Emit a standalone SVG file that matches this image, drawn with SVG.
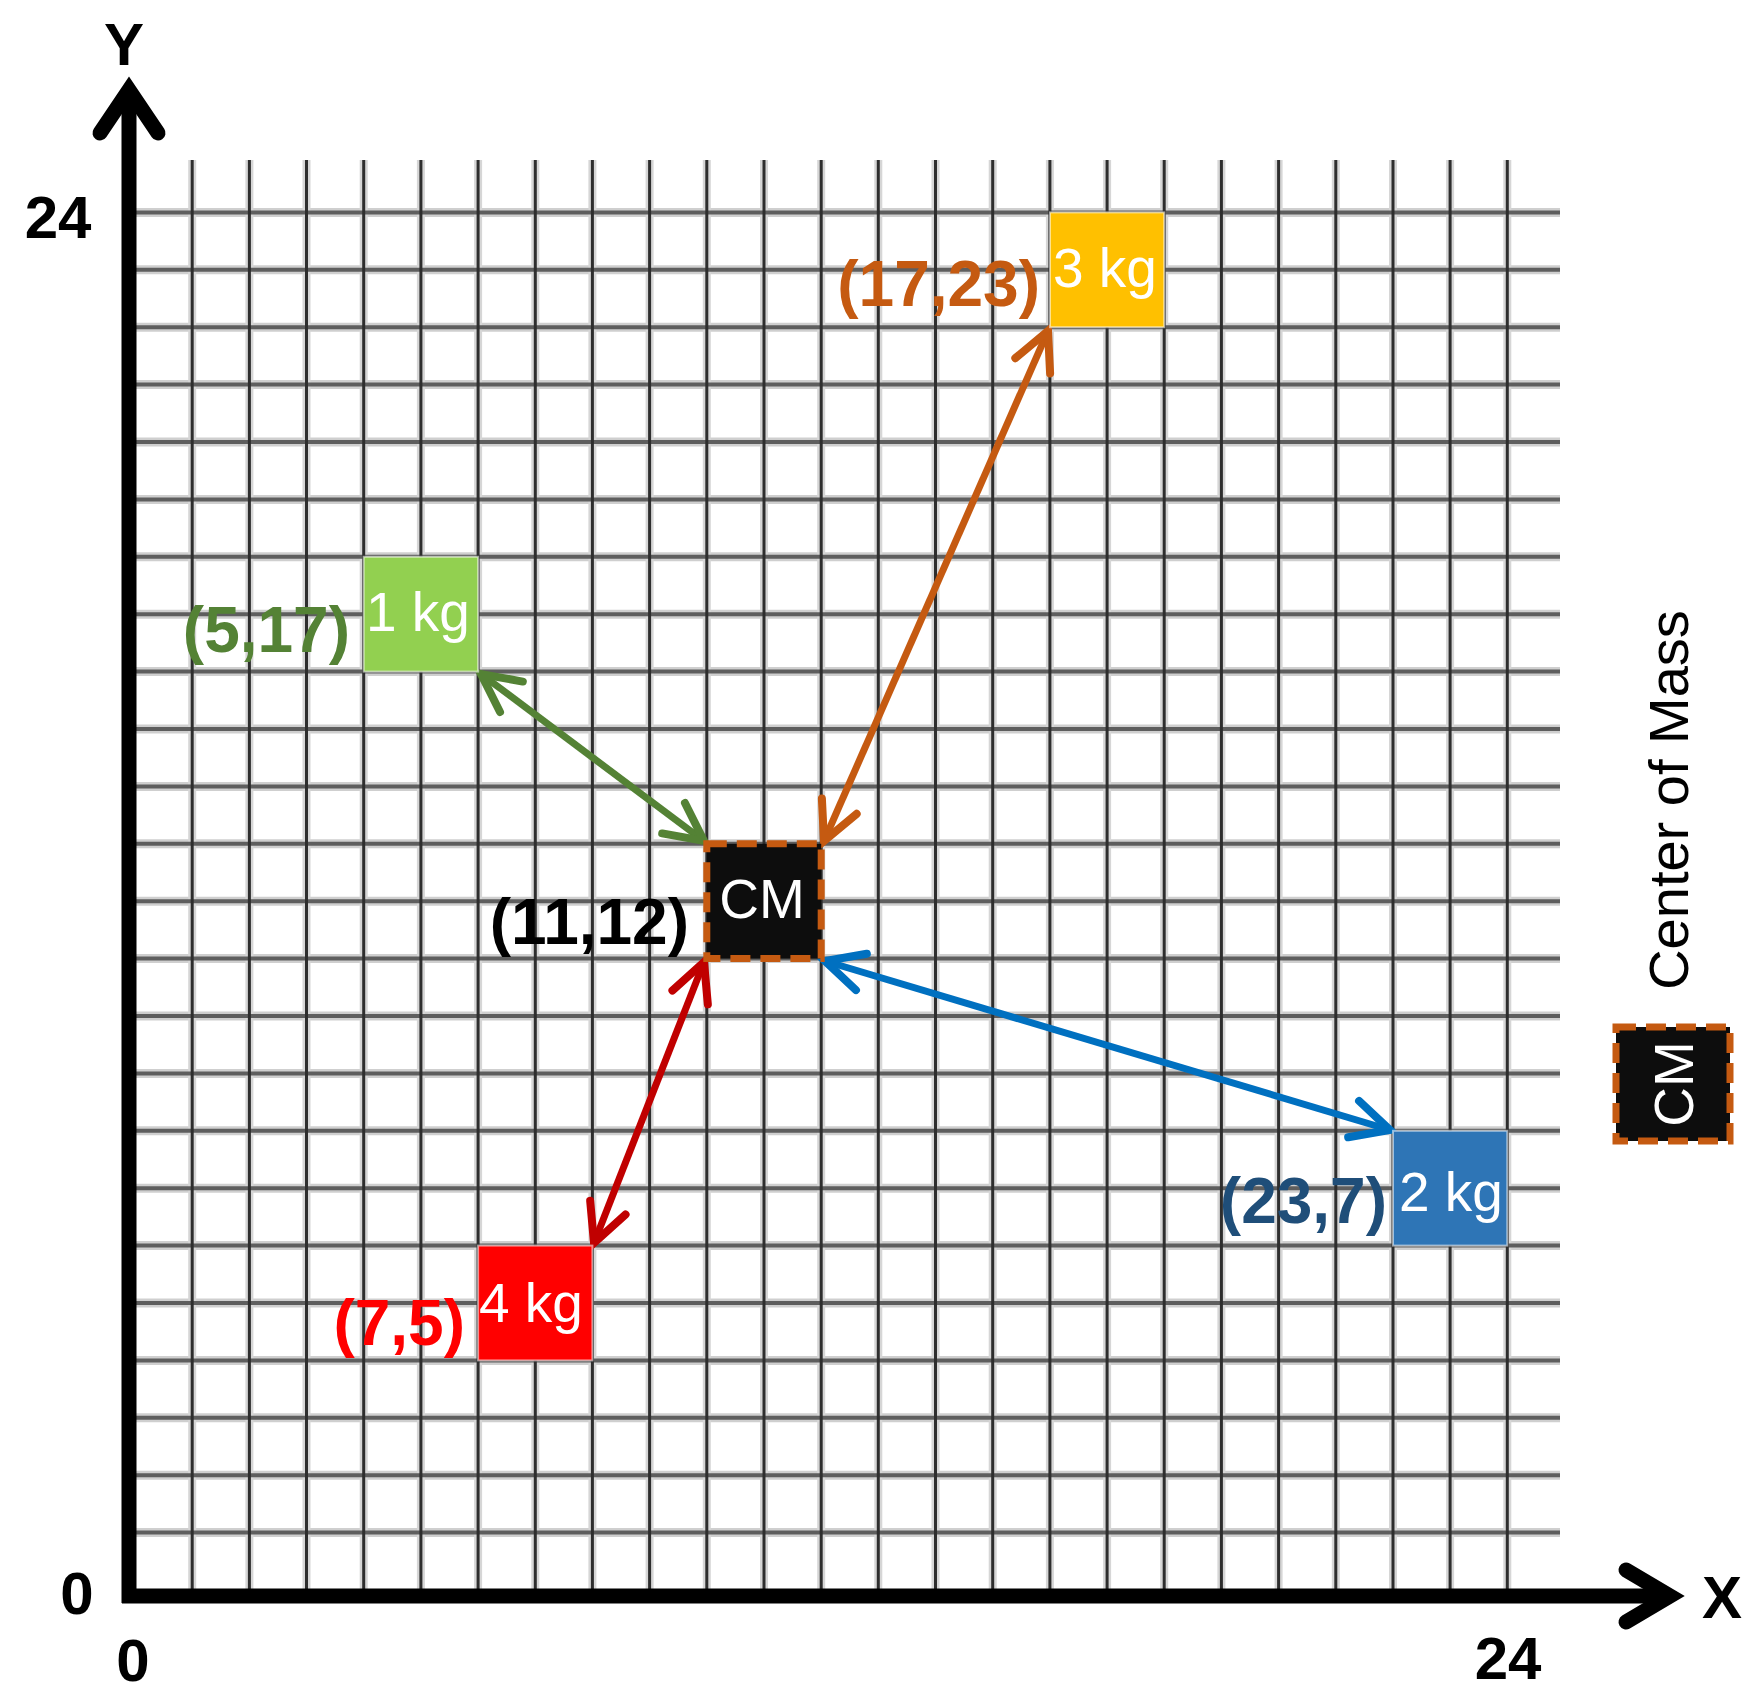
<svg xmlns="http://www.w3.org/2000/svg" width="1760" height="1708" viewBox="0 0 1760 1708">
<style>
.lbl{font-family:"Liberation Sans",Arial,sans-serif;font-weight:bold;font-size:64px}
.ax{font-family:"Liberation Sans",Arial,sans-serif;font-weight:bold;font-size:60px;fill:#000}
.bt{font-family:"Liberation Sans",Arial,sans-serif;font-size:55px;fill:#fff}
.hh{stroke:#cfcfcf;stroke-width:9}
.hc{stroke:#5e5e5e;stroke-width:4}
.vh{stroke:#d6d6d6;stroke-width:8}
.vc{stroke:#2e2e2e;stroke-width:3}
.box{stroke:#ffffff;stroke-opacity:0.55;stroke-width:2}
.cm{fill:#0d0d0d;stroke:#C55A11;stroke-width:7;stroke-dasharray:20 10}
.conn{fill:none;stroke-width:7}
</style>
<defs>
<marker id="ag" markerUnits="userSpaceOnUse" orient="auto-start-reverse" refX="0" refY="0" markerWidth="60" markerHeight="60" overflow="visible"><path d="M-38,-19 L0,0 L-38,19" fill="none" stroke="#548235" stroke-width="8" stroke-linecap="round" stroke-linejoin="miter"/></marker>
<marker id="ao" markerUnits="userSpaceOnUse" orient="auto-start-reverse" refX="0" refY="0" markerWidth="60" markerHeight="60" overflow="visible"><path d="M-38,-19 L0,0 L-38,19" fill="none" stroke="#C55A11" stroke-width="8" stroke-linecap="round" stroke-linejoin="miter"/></marker>
<marker id="ab" markerUnits="userSpaceOnUse" orient="auto-start-reverse" refX="0" refY="0" markerWidth="60" markerHeight="60" overflow="visible"><path d="M-38,-19 L0,0 L-38,19" fill="none" stroke="#0070C0" stroke-width="8" stroke-linecap="round" stroke-linejoin="miter"/></marker>
<marker id="ar" markerUnits="userSpaceOnUse" orient="auto-start-reverse" refX="0" refY="0" markerWidth="60" markerHeight="60" overflow="visible"><path d="M-38,-19 L0,0 L-38,19" fill="none" stroke="#C00000" stroke-width="8" stroke-linecap="round" stroke-linejoin="miter"/></marker>
</defs>
<rect width="1760" height="1708" fill="#fff"/>
<g id="grid">
<g class="hh">
<line x1="136" y1="1532.6" x2="1560" y2="1532.6"/><line x1="136" y1="1475.2" x2="1560" y2="1475.2"/><line x1="136" y1="1417.8" x2="1560" y2="1417.8"/><line x1="136" y1="1360.4" x2="1560" y2="1360.4"/><line x1="136" y1="1303" x2="1560" y2="1303"/><line x1="136" y1="1245.6" x2="1560" y2="1245.6"/><line x1="136" y1="1188.2" x2="1560" y2="1188.2"/><line x1="136" y1="1130.8" x2="1560" y2="1130.8"/><line x1="136" y1="1073.4" x2="1560" y2="1073.4"/><line x1="136" y1="1016" x2="1560" y2="1016"/><line x1="136" y1="958.6" x2="1560" y2="958.6"/><line x1="136" y1="901.2" x2="1560" y2="901.2"/><line x1="136" y1="843.8" x2="1560" y2="843.8"/><line x1="136" y1="786.4" x2="1560" y2="786.4"/><line x1="136" y1="729" x2="1560" y2="729"/><line x1="136" y1="671.6" x2="1560" y2="671.6"/><line x1="136" y1="614.2" x2="1560" y2="614.2"/><line x1="136" y1="556.8" x2="1560" y2="556.8"/><line x1="136" y1="499.4" x2="1560" y2="499.4"/><line x1="136" y1="442" x2="1560" y2="442"/><line x1="136" y1="384.6" x2="1560" y2="384.6"/><line x1="136" y1="327.2" x2="1560" y2="327.2"/><line x1="136" y1="269.8" x2="1560" y2="269.8"/><line x1="136" y1="212.4" x2="1560" y2="212.4"/>
</g>
<g class="vh">
<line x1="192.2" y1="160" x2="192.2" y2="1590"/><line x1="249.4" y1="160" x2="249.4" y2="1590"/><line x1="306.5" y1="160" x2="306.5" y2="1590"/><line x1="363.7" y1="160" x2="363.7" y2="1590"/><line x1="420.9" y1="160" x2="420.9" y2="1590"/><line x1="478.1" y1="160" x2="478.1" y2="1590"/><line x1="535.3" y1="160" x2="535.3" y2="1590"/><line x1="592.4" y1="160" x2="592.4" y2="1590"/><line x1="649.6" y1="160" x2="649.6" y2="1590"/><line x1="706.8" y1="160" x2="706.8" y2="1590"/><line x1="764" y1="160" x2="764" y2="1590"/><line x1="821.2" y1="160" x2="821.2" y2="1590"/><line x1="878.3" y1="160" x2="878.3" y2="1590"/><line x1="935.5" y1="160" x2="935.5" y2="1590"/><line x1="992.7" y1="160" x2="992.7" y2="1590"/><line x1="1049.9" y1="160" x2="1049.9" y2="1590"/><line x1="1107.1" y1="160" x2="1107.1" y2="1590"/><line x1="1164.2" y1="160" x2="1164.2" y2="1590"/><line x1="1221.4" y1="160" x2="1221.4" y2="1590"/><line x1="1278.6" y1="160" x2="1278.6" y2="1590"/><line x1="1335.8" y1="160" x2="1335.8" y2="1590"/><line x1="1393" y1="160" x2="1393" y2="1590"/><line x1="1450.1" y1="160" x2="1450.1" y2="1590"/><line x1="1507.3" y1="160" x2="1507.3" y2="1590"/>
</g>
<g class="hc">
<line x1="136" y1="1532.6" x2="1560" y2="1532.6"/><line x1="136" y1="1475.2" x2="1560" y2="1475.2"/><line x1="136" y1="1417.8" x2="1560" y2="1417.8"/><line x1="136" y1="1360.4" x2="1560" y2="1360.4"/><line x1="136" y1="1303" x2="1560" y2="1303"/><line x1="136" y1="1245.6" x2="1560" y2="1245.6"/><line x1="136" y1="1188.2" x2="1560" y2="1188.2"/><line x1="136" y1="1130.8" x2="1560" y2="1130.8"/><line x1="136" y1="1073.4" x2="1560" y2="1073.4"/><line x1="136" y1="1016" x2="1560" y2="1016"/><line x1="136" y1="958.6" x2="1560" y2="958.6"/><line x1="136" y1="901.2" x2="1560" y2="901.2"/><line x1="136" y1="843.8" x2="1560" y2="843.8"/><line x1="136" y1="786.4" x2="1560" y2="786.4"/><line x1="136" y1="729" x2="1560" y2="729"/><line x1="136" y1="671.6" x2="1560" y2="671.6"/><line x1="136" y1="614.2" x2="1560" y2="614.2"/><line x1="136" y1="556.8" x2="1560" y2="556.8"/><line x1="136" y1="499.4" x2="1560" y2="499.4"/><line x1="136" y1="442" x2="1560" y2="442"/><line x1="136" y1="384.6" x2="1560" y2="384.6"/><line x1="136" y1="327.2" x2="1560" y2="327.2"/><line x1="136" y1="269.8" x2="1560" y2="269.8"/><line x1="136" y1="212.4" x2="1560" y2="212.4"/>
</g>
<g class="vc">
<line x1="192.2" y1="160" x2="192.2" y2="1590"/><line x1="249.4" y1="160" x2="249.4" y2="1590"/><line x1="306.5" y1="160" x2="306.5" y2="1590"/><line x1="363.7" y1="160" x2="363.7" y2="1590"/><line x1="420.9" y1="160" x2="420.9" y2="1590"/><line x1="478.1" y1="160" x2="478.1" y2="1590"/><line x1="535.3" y1="160" x2="535.3" y2="1590"/><line x1="592.4" y1="160" x2="592.4" y2="1590"/><line x1="649.6" y1="160" x2="649.6" y2="1590"/><line x1="706.8" y1="160" x2="706.8" y2="1590"/><line x1="764" y1="160" x2="764" y2="1590"/><line x1="821.2" y1="160" x2="821.2" y2="1590"/><line x1="878.3" y1="160" x2="878.3" y2="1590"/><line x1="935.5" y1="160" x2="935.5" y2="1590"/><line x1="992.7" y1="160" x2="992.7" y2="1590"/><line x1="1049.9" y1="160" x2="1049.9" y2="1590"/><line x1="1107.1" y1="160" x2="1107.1" y2="1590"/><line x1="1164.2" y1="160" x2="1164.2" y2="1590"/><line x1="1221.4" y1="160" x2="1221.4" y2="1590"/><line x1="1278.6" y1="160" x2="1278.6" y2="1590"/><line x1="1335.8" y1="160" x2="1335.8" y2="1590"/><line x1="1393" y1="160" x2="1393" y2="1590"/><line x1="1450.1" y1="160" x2="1450.1" y2="1590"/><line x1="1507.3" y1="160" x2="1507.3" y2="1590"/>
</g>
</g>
<g id="axes" fill="none" stroke="#000" stroke-width="15">
<line x1="129" y1="1603" x2="129" y2="95"/>
<path d="M100,133 L129,90 L158,133" stroke-linecap="round" stroke-linejoin="miter"/>
<line x1="122" y1="1596" x2="1665" y2="1596"/>
<path d="M1626,1570 L1670,1596 L1626,1622" stroke-linecap="round" stroke-linejoin="miter"/>
</g>
<g id="axis-labels">
<text class="ax" x="124" y="65" text-anchor="middle">Y</text>
<text class="ax" x="1722" y="1618" text-anchor="middle">X</text>
<text class="ax" x="58" y="238" text-anchor="middle">24</text>
<text class="ax" x="77" y="1614" text-anchor="middle">0</text>
<text class="ax" x="133" y="1681" text-anchor="middle">0</text>
<text class="ax" x="1508" y="1679" text-anchor="middle">24</text>
</g>
<g id="connectors" class="conn">
<line x1="481" y1="674" x2="704" y2="841" stroke="#548235" marker-start="url(#ag)" marker-end="url(#ag)"/>
<line x1="1048" y1="331" x2="824" y2="841" stroke="#C55A11" marker-start="url(#ao)" marker-end="url(#ao)"/>
<line x1="825" y1="961" x2="1390" y2="1130" stroke="#0070C0" marker-start="url(#ab)" marker-end="url(#ab)"/>
<line x1="704" y1="962" x2="594" y2="1243" stroke="#C00000" marker-start="url(#ar)" marker-end="url(#ar)"/>
</g>
<g id="node-3kg">
<rect class="box" x="1050" y="212.4" width="114.2" height="114.8" fill="#FFC000"/>
<text class="bt" x="1053" y="287">3 kg</text>
<text class="lbl" x="1040" y="306" text-anchor="end" fill="#C55A11">(17,23)</text>
</g>
<g id="node-1kg">
<rect class="box" x="363.7" y="556.8" width="114.4" height="114.8" fill="#92D050"/>
<text class="bt" x="366" y="631">1 kg</text>
<text class="lbl" x="350" y="652" text-anchor="end" fill="#548235">(5,17)</text>
</g>
<g id="node-cm">
<rect class="cm" x="706.8" y="843.8" width="114.4" height="114.8"/>
<text class="bt" x="762" y="918" text-anchor="middle">CM</text>
<text class="lbl" x="689" y="944" text-anchor="end" fill="#000">(11,12)</text>
</g>
<g id="node-2kg">
<rect class="box" x="1393" y="1130.8" width="114.3" height="114.8" fill="#2E75B6"/>
<text class="bt" x="1399" y="1211">2 kg</text>
<text class="lbl" x="1387" y="1223" text-anchor="end" fill="#1F4E79">(23,7)</text>
</g>
<g id="node-4kg">
<rect class="box" x="478.1" y="1245.6" width="114.3" height="114.8" fill="#FF0000"/>
<text class="bt" x="479" y="1322">4 kg</text>
<text class="lbl" x="465" y="1345" text-anchor="end" fill="#FF0000">(7,5)</text>
</g>
<g id="legend">
<rect class="cm" x="1616" y="1027" width="114" height="114"/>
<text class="bt" transform="translate(1693,1084) rotate(-90)" x="0" y="0" text-anchor="middle">CM</text>
<text transform="translate(1688,800) rotate(-90)" x="0" y="0" text-anchor="middle" font-family="Liberation Sans, Arial, sans-serif" font-size="56" fill="#000">Center of Mass</text>
</g>
</svg>
